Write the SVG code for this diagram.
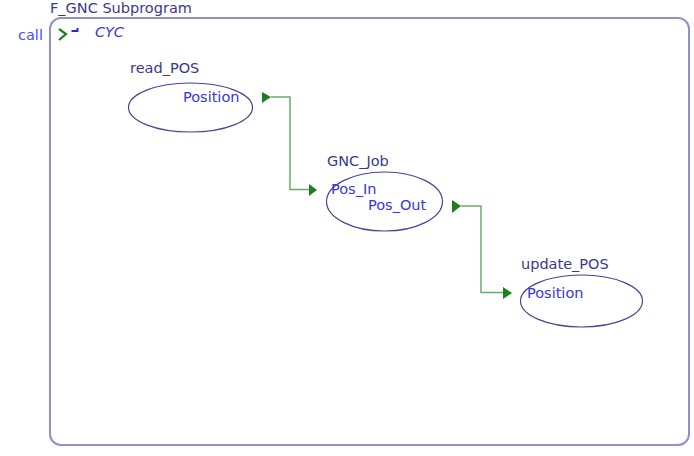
<svg xmlns="http://www.w3.org/2000/svg" width="694" height="456" viewBox="0 0 694 456">
<style>
text{font-family:"DejaVu Sans","Liberation Sans",sans-serif;font-size:14.5px}
.lbl{fill:#3a3a8c}
.port{fill:#3838e0}
.ell{fill:none;stroke:#45459a;stroke-width:1.2}
.conn{fill:none;stroke:#6aaa6a;stroke-width:1.5}
.tri{fill:#1e7d1e}
</style>
<rect width="694" height="456" fill="#ffffff"/>
<g id="subprogram">
<rect x="50" y="18" width="639" height="427" rx="11" ry="11" fill="none" stroke="#9090d0" stroke-width="2"/>
<text class="lbl" x="50" y="13" font-size="14">F_GNC Subprogram</text>
<text x="18" y="40" fill="#4a4aff">call</text>
<path d="M59 29 L66 34 L59 40" fill="none" stroke="#1e7d1e" stroke-width="2.2"/>
<path d="M71.5 31 H77.5 V28" fill="none" stroke="#2a2acc" stroke-width="2"/>
<text x="95" y="37" fill="#3838e0" font-style="italic">CYC</text>
</g>
<g id="read_POS">
<text class="lbl" x="130" y="73">read_POS</text>
<ellipse class="ell" cx="190.5" cy="107.5" rx="62" ry="24.5"/>
<text class="port" x="183" y="101.5">Position</text>
<path class="tri" d="M262 92 L271 97 L262 103 Z"/>
</g>
<g id="GNC_Job">
<text class="lbl" x="327" y="166">GNC_Job</text>
<ellipse class="ell" cx="384.5" cy="201.5" rx="58" ry="29.5"/>
<path class="tri" d="M309 184 L317 190 L309 196 Z"/>
<text class="port" x="331" y="194">Pos_In</text>
<text class="port" x="368" y="210">Pos_Out</text>
<path class="tri" d="M452 200 L461 206 L452 213 Z"/>
</g>
<g id="update_POS">
<text class="lbl" x="521" y="269">update_POS</text>
<ellipse class="ell" cx="581.5" cy="301" rx="61" ry="26"/>
<path class="tri" d="M503 287 L512 293 L503 299 Z"/>
<text class="port" x="527" y="297.5">Position</text>
</g>
<g id="connectors">
<path class="conn" d="M271 97 H290 V189.5 H309"/>
<path class="conn" d="M461 206 H481 V292.5 H503"/>
</g>
</svg>
